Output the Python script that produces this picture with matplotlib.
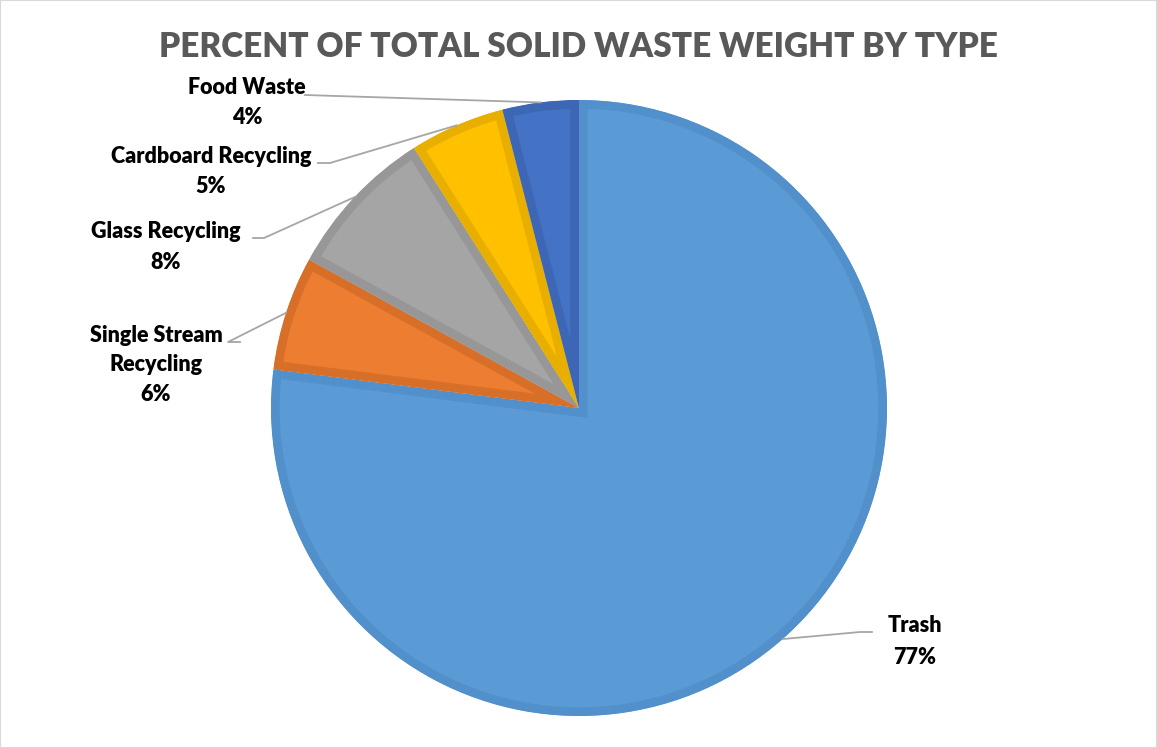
import matplotlib.pyplot as plt
import numpy as np

# data
labels = ["Trash", "Single Stream\nRecycling", "Glass Recycling", "Cardboard Recycling", "Food Waste"]
values = [77, 6, 8, 5, 4]
pct_labels = ["77%", "6%", "8%", "5%", "4%"]
colors = ["#5B9BD5", "#ED7D31", "#A5A5A5", "#FFC000", "#4472C4"]
edge_colors = ["#5190CB", "#D86F28", "#979797", "#E8AF00", "#3D67B4"]

plt.rcParams['font.family'] = ['Lato', 'DejaVu Sans']

W, H = 1157, 748
fig = plt.figure(figsize=(W / 100, H / 100), dpi=100)
ax = fig.add_axes([0, 0, 1, 1])

cx, cy, r = 579, H - 408, 308
wedges, _ = ax.pie(values, colors=colors, startangle=90, counterclock=False,
                   center=(cx, cy), radius=r, frame=True)
ax.set_xlim(0, W)
ax.set_ylim(0, H)
ax.set_aspect('equal')
ax.axis('off')

# inner darker border on each slice (stroke clipped to the slice itself)
for w, ec in zip(wedges, edge_colors):
    w.set_edgecolor(ec)
    w.set_linewidth(12.5)
    w.set_joinstyle('miter')
    w.set_clip_on(True)
    w.set_clip_path(w)

# label line centres (pixels from top) and leader line start / elbow
label_x = [915, 156, 166, 211, 247]
label_y = [[625, 657], [335, 364, 394], [231, 262], [156, 186], [87, 117]]
line_start = [(872, 632), (240, 342), (253, 238), (318, 163), (305, 95)]
line_elbow = [(860, 632), (228, 342), (264, 238), (330, 163), (305, 95)]

for i, w in enumerate(wedges):
    mid = np.deg2rad((w.theta1 + w.theta2) / 2)
    px, py = cx + r * np.cos(mid), cy + r * np.sin(mid)
    sx, sy = line_start[i]
    ex, ey = line_elbow[i]
    ax.plot([sx, ex, px], [H - sy, H - ey, py], color="#A6A6A6", lw=1.3, zorder=3)
    lines = labels[i].split("\n") + [pct_labels[i]]
    for txt, ly in zip(lines, label_y[i]):
        ax.text(label_x[i], H - ly, txt, ha='center', va='center',
                fontsize=15.5, fontweight='heavy', color='black', zorder=4)

fig.text(0.5, 1 - 47 / H, "PERCENT OF TOTAL SOLID WASTE WEIGHT BY TYPE", ha='center', va='center',
         fontsize=24, fontweight='heavy', color='#595959')

fig.patches.append(plt.Rectangle((0, 0), 1, 1, transform=fig.transFigure, fill=False,
                                 edgecolor='#D9D9D9', lw=1.5))

fig.savefig("out.png", dpi=100)
